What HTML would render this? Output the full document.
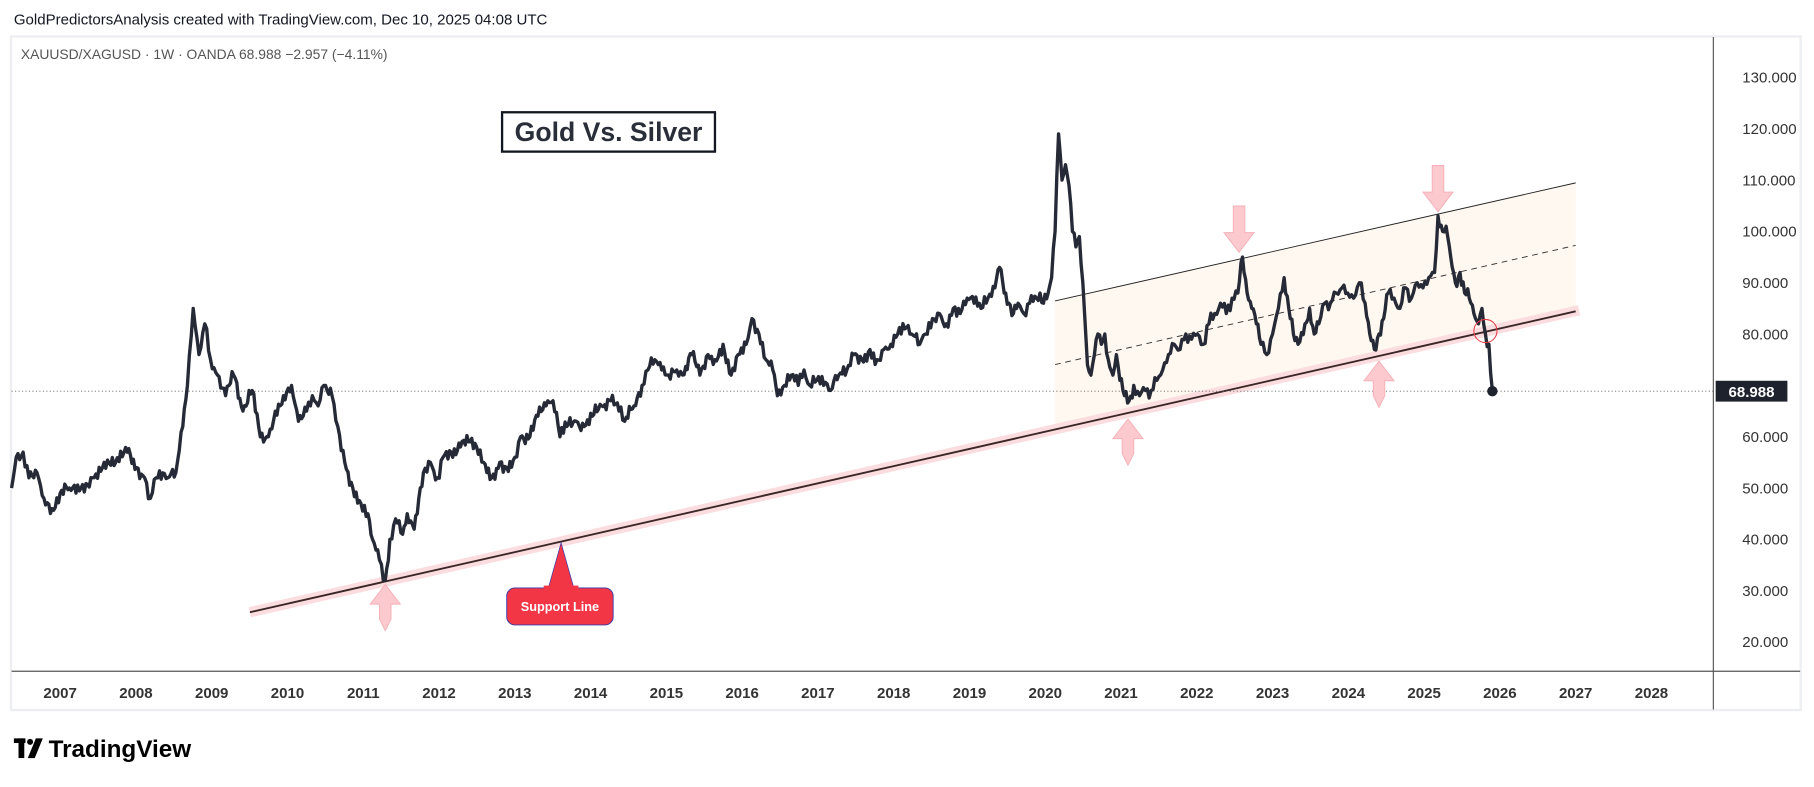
<!DOCTYPE html>
<html><head><meta charset="utf-8"><style>
html,body{margin:0;padding:0;background:#fff;}
svg{display:block;}
text{font-family:"Liberation Sans",sans-serif;}
</style></head><body>
<svg id="s" width="1814" height="787" viewBox="0 0 1568 680" preserveAspectRatio="none" xmlns="http://www.w3.org/2000/svg">
<rect x="0" y="0" width="1568" height="680" fill="#fff"/>
<text x="12" y="21" font-size="13" fill="#131722">GoldPredictorsAnalysis created with TradingView.com, Dec 10, 2025 04:08 UTC</text>
<rect x="9.5" y="31.5" width="1547" height="582" fill="none" stroke="#eceef2" stroke-width="2"/>
<text x="18" y="51" font-size="12" fill="#555">XAUUSD/XAGUSD · 1W · OANDA  68.988  −2.957 (−4.11%)</text>
<polygon points="912,260 1362,158 1362,269 912,371" fill="#fff8f0"/>
<line x1="912" y1="260" x2="1362" y2="158" stroke="#222" stroke-width="0.8"/>
<line x1="912" y1="315" x2="1362" y2="212" stroke="#333" stroke-width="0.8" stroke-dasharray="5,4"/>
<line x1="216" y1="529" x2="1365" y2="268" stroke="#fbdde0" stroke-width="9"/>
<line x1="216" y1="529" x2="1362" y2="269" stroke="#3b2626" stroke-width="1.6"/>
<line x1="10" y1="338" x2="1481" y2="338" stroke="#666" stroke-width="0.8" stroke-dasharray="1,2"/>
<g id="arrows" fill="#fbc9ce" stroke="#f5b0b7" stroke-width="0.8"></g>
<path id="series" fill="none" stroke="#262a36" stroke-width="2.9" stroke-linejoin="round"/>
<circle cx="1284" cy="286" r="10" fill="none" stroke="#e53945" stroke-width="0.9"/>
<circle cx="1290" cy="338" r="4.5" fill="#1e222d"/>
<rect x="434" y="97" width="184" height="34" fill="#fff" stroke="#131722" stroke-width="2"/>
<text x="526" y="122" font-size="23" font-weight="bold" fill="#2a2e39" text-anchor="middle">Gold Vs. Silver</text>
<path d="M474,508 L485,469 L496,508 Z" fill="#f23645" stroke="#3a3aaa" stroke-width="0.6"/>
<rect x="438" y="508" width="92" height="32" rx="7" fill="#f23645" stroke="#3a3aaa" stroke-width="0.8"/>
<rect x="470" y="506" width="30" height="4" fill="#f23645"/>
<text x="484" y="528" font-size="11" font-weight="bold" fill="#fff" text-anchor="middle">Support Line</text>
<line x1="1481" y1="32" x2="1481" y2="613" stroke="#555" stroke-width="1"/>
<line x1="10" y1="580" x2="1556" y2="580" stroke="#555" stroke-width="1"/>
<g id="yl" font-size="13" fill="#333"></g>
<g id="xl" font-size="13" font-weight="bold" fill="#333" text-anchor="middle"></g>
<rect x="1483" y="329" width="62" height="18" fill="#1e222d"/>
<text x="1514" y="343" font-size="13" font-weight="bold" fill="#fff" text-anchor="middle">68.988</text>
<g transform="translate(12,638)">
<rect x="0" y="0" width="10" height="4" fill="#000"/><rect x="4" y="0" width="5" height="17" fill="#000"/>
<circle cx="14" cy="3" r="2.6" fill="#000"/><path d="M19,0 L25,0 L18,17 L12,17 Z" fill="#000"/>
<text x="30" y="16" font-size="21" font-weight="bold" fill="#000">TradingView</text>
</g>
</svg>
<script>
var ns="http://www.w3.org/2000/svg";
function Y(p){return 333-(p-70)*4.435;}
var yl=document.getElementById('yl');
for(var v=20;v<=130;v+=10){if(v==70)continue;var t=document.createElementNS(ns,'text');t.setAttribute('x',1506);t.setAttribute('y',Y(v)+4.5);t.textContent=v+'.000';yl.appendChild(t);}
var xl=document.getElementById('xl');
for(var yr=2007;yr<=2028;yr++){var t=document.createElementNS(ns,'text');t.setAttribute('x',52+(yr-2007)*65.5);t.setAttribute('y',603);t.textContent=yr;xl.appendChild(t);}
var P=[[10,50],[14,56],[20,57],[25,52],[32,53],[38,48],[45,46],[52,49],[60,50],[70,50],[80,52],[90,55],[100,55],[110,57],[118,54],[125,52],[130,48],[135,52],[145,52],[152,53],[158,62],[162,70],[167,85],[172,76],[177,82],[182,75],[188,72],[195,68],[202,72],[210,65],[218,69],[225,60],[232,60],[238,65],[245,68],[252,70],[258,63],[265,65],[270,68],[275,66],[280,70],[287,68],[292,62],[298,55],[305,50],[312,47],[318,45],[322,40],[328,36],[333,32],[337,40],[342,44],[348,41],[352,45],[358,42],[362,48],[366,53],[372,55],[378,52],[383,56],[390,57],[398,58],[405,59],[412,58],[418,55],[425,52],[432,55],[438,54],[445,56],[450,60],[458,60],[465,64],[472,66],[478,67],[484,60],[490,62],[498,63],[505,62],[512,64],[520,66],[528,67],[535,65],[540,63],[548,66],[555,70],[560,73],[566,75],[572,73],[578,72],[585,73],[590,72],[598,76],[605,72],[612,76],[618,75],[625,78],[632,72],[638,76],[645,78],[650,83],[656,80],[662,75],[668,73],[672,68],[678,70],[684,72],[690,70],[695,73],[700,70],[706,71],[712,70],[718,69],[725,72],[732,73],[738,76],[745,75],[752,77],[758,75],[764,77],[770,78],[776,80],[782,81],[788,80],[795,78],[800,80],[806,83],[812,84],[818,82],[824,85],[830,84],[836,87],[842,86],[848,85],[854,87],[860,89],[864,93],[868,88],[872,86],[876,84],[880,86],[885,84],[890,86],[896,87],[902,86],[906,88],[909,91],[912,100],[915,119],[918,110],[921,113],[924,109],[927,100],[930,97],[933,99],[936,90],[938,82],[940,74],[943,72],[946,76],[949,80],[952,78],[955,80],[958,75],[962,72],[965,76],[968,71],[972,68],[976,67],[980,70],[985,68],[990,69],[995,69],[1000,71],[1005,73],[1010,76],[1015,78],[1020,77],[1025,80],[1030,79],[1035,80],[1040,78],[1045,82],[1050,84],[1055,86],[1060,84],[1065,87],[1070,88],[1074,95],[1078,88],[1082,85],[1086,82],[1090,78],[1095,76],[1100,80],[1105,85],[1110,91],[1114,85],[1118,80],[1122,78],[1128,82],[1132,85],[1136,80],[1140,82],[1145,86],[1150,86],[1155,88],[1160,89],[1165,88],[1170,87],[1175,90],[1180,86],[1184,80],[1188,77],[1192,80],[1196,83],[1200,88],[1205,87],[1210,85],[1215,89],[1220,87],[1225,90],[1230,89],[1235,91],[1240,92],[1243,103],[1247,100],[1250,101],[1254,95],[1258,90],[1262,92],[1266,88],[1270,87],[1274,84],[1278,82],[1281,85],[1284,80],[1287,78],[1290,69]];
var d='';
for(var i=0;i<P.length;i++){
 var a=P[i];
 if(i>0){var b=P[i-1];var n=Math.max(1,Math.floor((a[0]-b[0])/1.3));
  for(var k=1;k<n;k++){var f=k/n;var x=b[0]+(a[0]-b[0])*f;var p=b[1]+(a[1]-b[1])*f+Math.sin(x*1.7)*0.9+Math.sin(x*4.3)*0.6;d+='L'+x.toFixed(1)+','+Y(p).toFixed(1);}}
 d+=(i?'L':'M')+a[0]+','+Y(a[1]).toFixed(1);
}
document.getElementById('series').setAttribute('d',d);
var ar=document.getElementById('arrows');
function arrow(cx,tip,up){var s=up?1:-1;var h=40;var w=13,sw=5,hh=17;
 var p;
 if(up){p=[[cx,tip],[cx+w,tip+hh],[cx+sw,tip+hh],[cx+sw,tip+30],[cx,tip+h],[cx-sw,tip+30],[cx-sw,tip+hh],[cx-w,tip+hh]];}
 else{p=[[cx,tip],[cx+w,tip-hh],[cx+sw,tip-hh],[cx+sw,tip-h],[cx-sw,tip-h],[cx-sw,tip-hh],[cx-w,tip-hh]];}
 var e=document.createElementNS(ns,'polygon');e.setAttribute('points',p.map(function(q){return q.join(',')}).join(' '));ar.appendChild(e);}
arrow(333,505,true);arrow(975,362,true);arrow(1192,312,true);arrow(1071,218,false);arrow(1243,183,false);
</script>
</body></html>
